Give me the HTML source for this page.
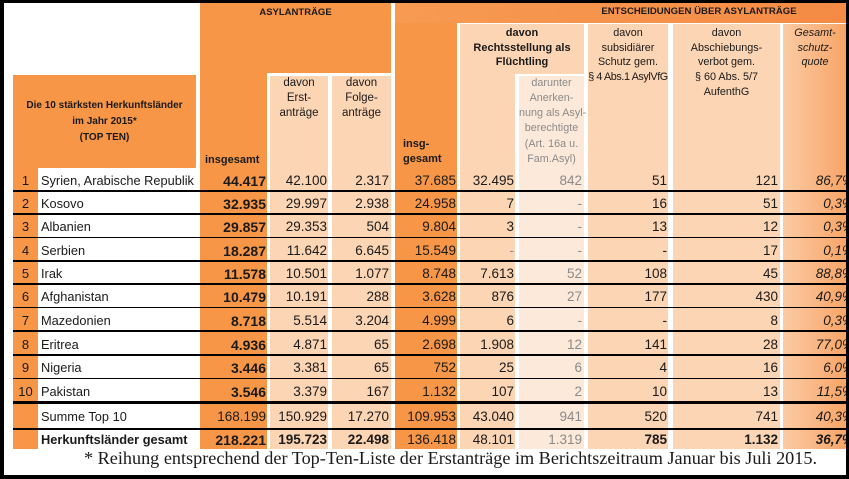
<!DOCTYPE html>
<html><head><meta charset="utf-8">
<style>
*{margin:0;padding:0;box-sizing:border-box}
html,body{width:849px;height:479px;overflow:hidden;background:#fff}
body{position:relative;font-family:"Liberation Sans",sans-serif;color:#1a1a1a}
.a{position:absolute}
.o{background:#F79646}
.l{background:#FCD5B4}
.ll{background:#FDE9D9}
.h{position:absolute;text-align:center;white-space:nowrap}
.r{position:absolute;left:0;width:849px;height:20px;line-height:20px}
.r span{position:absolute;top:0;white-space:nowrap;font-size:13.5px;text-align:right}
.r .n{left:13px;width:25px;text-align:center;font-size:13px}
.r .c{left:41px;text-align:left;font-size:12.8px}
.r .c1{left:196px;width:70px;font-size:14px;font-weight:bold}
.r .c2{left:266px;width:61px}
.r .c3{left:328px;width:61px}
.r .c4{left:392px;width:64px}
.r .c5{left:457px;width:57px}
.r .c6{left:516px;width:66px;color:#8a8a8a}
.r .c7{left:585px;width:82px}
.r .c8{left:670px;width:108px}
.r .c9{left:780px;width:74px;font-style:italic}
.r .g{color:#888}
.line{position:absolute;left:13px;width:834px;background:#000}
.b{font-weight:bold}
</style></head><body>
<!-- backgrounds -->
<div class="a o" style="left:13px;top:75px;width:183px;height:93px"></div>
<div class="a o" style="left:13px;top:168px;width:25px;height:281px"></div>
<div class="a o" style="left:200px;top:3px;width:191px;height:70px"></div>
<div class="a o" style="left:200px;top:73px;width:67px;height:376px"></div>
<div class="a l" style="left:270px;top:76px;width:58px;height:373px"></div>
<div class="a l" style="left:332px;top:76px;width:59px;height:373px"></div>
<div class="a" style="left:395px;top:3px;width:452px;height:20px;background:linear-gradient(to right,#F79A52,#F58B45)"></div>
<div class="a o" style="left:395px;top:23px;width:62px;height:426px"></div>
<div class="a l" style="left:460px;top:24px;width:124px;height:50px"></div>
<div class="a l" style="left:460px;top:74px;width:55px;height:375px"></div>
<div class="a ll" style="left:519px;top:76px;width:65px;height:373px"></div>
<div class="a l" style="left:588px;top:24px;width:80px;height:425px"></div>
<div class="a l" style="left:673px;top:24px;width:107px;height:425px"></div>
<div class="a" style="left:783px;top:24px;width:64px;height:425px;background:linear-gradient(to right,#FBCBA4,#F8A466)"></div>

<!-- header text -->
<div class="h b" style="left:200px;width:191px;top:6px;font-size:9.5px;line-height:14px">ASYLANTRÄGE</div>
<div class="h b" style="left:599px;width:200px;top:5px;font-size:9.6px;line-height:14px">ENTSCHEIDUNGEN ÜBER ASYLANTRÄGE</div>
<div class="h b" style="left:13px;width:183px;top:98px;font-size:10px;line-height:16px">Die 10 stärksten Herkunftsländer<br>im Jahr 2015*<br>(TOP TEN)</div>
<div class="h b" style="left:205px;top:152px;font-size:11px;line-height:16px;text-align:left">insgesamt</div>
<div class="h" style="left:270px;width:58px;top:76px;font-size:11.5px;line-height:15px">davon<br>Erst-<br>anträge</div>
<div class="h" style="left:332px;width:59px;top:76px;font-size:11.5px;line-height:15px">davon<br>Folge-<br>anträge</div>
<div class="h b" style="left:403px;top:137px;font-size:11px;line-height:15px;text-align:left">insg-<br>gesamt</div>
<div class="h b" style="left:460px;width:124px;top:26px;font-size:11px;line-height:14.5px">davon<br>Rechtsstellung als<br>Flüchtling</div>
<div class="h" style="left:519px;width:65px;top:75.5px;font-size:10.8px;line-height:15.3px;color:#8a8a8a">darunter<br>Anerken-<br>nung als Asyl-<br>berechtigte<br>(Art. 16a u.<br>Fam.Asyl)</div>
<div class="h" style="left:588px;width:80px;top:26px;font-size:10.8px;line-height:14.7px">davon<br>subsidiärer<br>Schutz gem.<br><span style="letter-spacing:-0.4px">§ 4 Abs.1 AsylVfG</span></div>
<div class="h" style="left:673px;width:107px;top:26px;font-size:10.8px;line-height:14.7px">davon<br>Abschiebungs-<br>verbot gem.<br>§ 60 Abs. 5/7<br>AufenthG</div>
<div class="h" style="left:783px;width:64px;top:26px;font-size:10.8px;line-height:14.7px;font-style:italic">Gesamt-<br>schutz-<br>quote</div>

<!-- rows -->
<div class="r" style="top:170.5px"><span class="n">1</span><span class="c">Syrien, Arabische Republik</span><span class="c1">44.417</span><span class="c2">42.100</span><span class="c3">2.317</span><span class="c4">37.685</span><span class="c5">32.495</span><span class="c6">842</span><span class="c7">51</span><span class="c8">121</span><span class="c9">86,7%</span></div>
<div class="r" style="top:193.5px"><span class="n">2</span><span class="c">Kosovo</span><span class="c1">32.935</span><span class="c2">29.997</span><span class="c3">2.938</span><span class="c4">24.958</span><span class="c5">7</span><span class="c6">-</span><span class="c7">16</span><span class="c8">51</span><span class="c9">0,3%</span></div>
<div class="r" style="top:217px"><span class="n">3</span><span class="c">Albanien</span><span class="c1">29.857</span><span class="c2">29.353</span><span class="c3">504</span><span class="c4">9.804</span><span class="c5">3</span><span class="c6">-</span><span class="c7">13</span><span class="c8">12</span><span class="c9">0,3%</span></div>
<div class="r" style="top:240.5px"><span class="n">4</span><span class="c">Serbien</span><span class="c1">18.287</span><span class="c2">11.642</span><span class="c3">6.645</span><span class="c4">15.549</span><span class="c5 g">-</span><span class="c6">-</span><span class="c7">-</span><span class="c8">17</span><span class="c9">0,1%</span></div>
<div class="r" style="top:264px"><span class="n">5</span><span class="c">Irak</span><span class="c1">11.578</span><span class="c2">10.501</span><span class="c3">1.077</span><span class="c4">8.748</span><span class="c5">7.613</span><span class="c6">52</span><span class="c7">108</span><span class="c8">45</span><span class="c9">88,8%</span></div>
<div class="r" style="top:287px"><span class="n">6</span><span class="c">Afghanistan</span><span class="c1">10.479</span><span class="c2">10.191</span><span class="c3">288</span><span class="c4">3.628</span><span class="c5">876</span><span class="c6">27</span><span class="c7">177</span><span class="c8">430</span><span class="c9">40,9%</span></div>
<div class="r" style="top:310.5px"><span class="n">7</span><span class="c">Mazedonien</span><span class="c1">8.718</span><span class="c2">5.514</span><span class="c3">3.204</span><span class="c4">4.999</span><span class="c5">6</span><span class="c6">-</span><span class="c7">-</span><span class="c8">8</span><span class="c9">0,3%</span></div>
<div class="r" style="top:334.5px"><span class="n">8</span><span class="c">Eritrea</span><span class="c1">4.936</span><span class="c2">4.871</span><span class="c3">65</span><span class="c4">2.698</span><span class="c5">1.908</span><span class="c6">12</span><span class="c7">141</span><span class="c8">28</span><span class="c9">77,0%</span></div>
<div class="r" style="top:357.5px"><span class="n">9</span><span class="c">Nigeria</span><span class="c1">3.446</span><span class="c2">3.381</span><span class="c3">65</span><span class="c4">752</span><span class="c5">25</span><span class="c6">6</span><span class="c7">4</span><span class="c8">16</span><span class="c9">6,0%</span></div>
<div class="r" style="top:381.5px"><span class="n">10</span><span class="c">Pakistan</span><span class="c1">3.546</span><span class="c2">3.379</span><span class="c3">167</span><span class="c4">1.132</span><span class="c5">107</span><span class="c6">2</span><span class="c7">10</span><span class="c8">13</span><span class="c9">11,5%</span></div>
<div class="r" style="top:406.5px"><span class="c">Summe Top 10</span><span class="c1" style="font-weight:normal;font-size:13.5px">168.199</span><span class="c2">150.929</span><span class="c3">17.270</span><span class="c4">109.953</span><span class="c5">43.040</span><span class="c6">941</span><span class="c7">520</span><span class="c8">741</span><span class="c9">40,3%</span></div>
<div class="r" style="top:430px"><span class="c b">Herkunftsländer gesamt</span><span class="c1">218.221</span><span class="c2 b">195.723</span><span class="c3 b">22.498</span><span class="c4">136.418</span><span class="c5">48.101</span><span class="c6">1.319</span><span class="c7 b">785</span><span class="c8 b">1.132</span><span class="c9 b">36,7%</span></div>

<!-- lines -->
<div class="line" style="top:190px;height:1.5px"></div>
<div class="line" style="top:213.3px;height:1.5px"></div>
<div class="line" style="top:236.7px;height:1.5px"></div>
<div class="line" style="top:260px;height:1.5px"></div>
<div class="line" style="top:283.4px;height:1.5px"></div>
<div class="line" style="top:306.8px;height:1.5px"></div>
<div class="line" style="top:330.3px;height:1.5px"></div>
<div class="line" style="top:354px;height:1.5px"></div>
<div class="line" style="top:377.5px;height:1.5px"></div>
<div class="line" style="top:401px;height:2.5px"></div>
<div class="line" style="top:427.5px;height:2.5px"></div>

<!-- footnote -->
<div class="a" style="left:84px;top:447px;font-family:'Liberation Serif',serif;font-size:18.2px;line-height:22px;white-space:nowrap;color:#1a1a1a">* Reihung entsprechend der Top-Ten-Liste der Erstanträge im Berichtszeitraum Januar bis Juli 2015.</div>

<!-- black frame -->
<div class="a" style="left:0;top:0;width:849px;height:3px;background:#000;z-index:5"></div>
<div class="a" style="left:0;top:0;width:4px;height:479px;background:#000;z-index:5"></div>
<div class="a" style="left:846px;top:0;width:3px;height:479px;background:#000;z-index:5"></div>
<div class="a" style="left:0;top:475px;width:849px;height:4px;background:#000;z-index:5"></div>
</body></html>
